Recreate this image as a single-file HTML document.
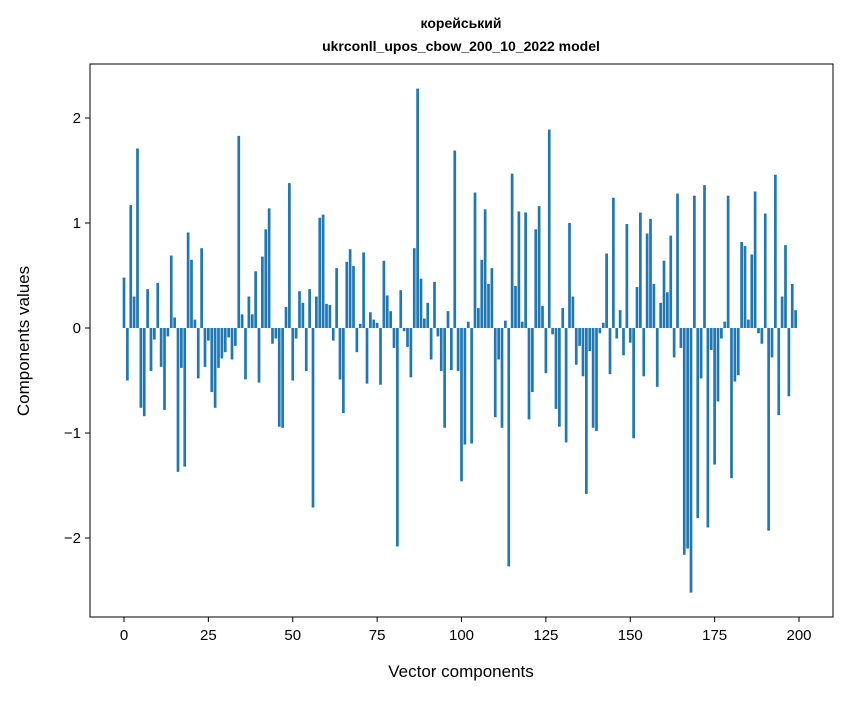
<!DOCTYPE html>
<html><head><meta charset="utf-8"><style>
body{margin:0;background:#fff;}
svg text{font-family:"Liberation Sans","DejaVu Sans",sans-serif;fill:#000;}
</style></head><body>
<svg id="chart" width="847" height="696" xmlns="http://www.w3.org/2000/svg">
<rect width="847" height="696" fill="#fff"/>
<text x="461" y="28" text-anchor="middle" font-size="14" font-weight="bold">корейський</text>
<text x="461" y="51" text-anchor="middle" font-size="14" font-weight="bold">ukrconll_upos_cbow_200_10_2022 model</text>
<g id="bars"></g>
<g id="xticks"></g>
<g id="yticks"></g>
<rect x="90" y="64" width="743" height="553" fill="none" stroke="#000" stroke-width="1"/>
<text x="461" y="677" text-anchor="middle" font-size="17">Vector components</text>
<text transform="translate(29,341) rotate(-90)" text-anchor="middle" font-size="17">Components values</text>
</svg>
<script>
const values = [0.48,-0.50,1.17,0.30,1.71,-0.76,-0.84,0.37,-0.41,-0.11,0.43,-0.37,-0.78,-0.08,0.69,0.10,-1.37,-0.38,-1.32,0.91,
0.65,0.08,-0.48,0.76,-0.37,-0.12,-0.61,-0.76,-0.38,-0.29,-0.23,-0.09,-0.30,-0.17,1.83,0.13,-0.49,0.30,0.13,0.54,
-0.52,0.68,0.94,1.14,-0.15,-0.10,-0.94,-0.95,0.20,1.38,-0.50,-0.10,0.35,0.24,-0.41,0.37,-1.71,0.30,1.05,1.08,
0.23,0.22,-0.12,0.57,-0.49,-0.81,0.63,0.75,0.59,-0.23,0.04,0.72,-0.53,0.15,0.08,0.05,-0.54,0.64,0.31,0.16,
-0.19,-2.08,0.36,-0.03,-0.18,-0.47,0.76,2.28,0.47,0.09,0.24,-0.30,0.44,-0.08,-0.41,-0.95,0.16,-0.40,1.69,-0.41,
-1.46,-1.11,0.06,-1.10,1.29,0.19,0.65,1.13,0.42,0.57,-0.85,-0.30,-0.95,0.07,-2.27,1.47,0.40,1.11,0.06,1.10,
-0.87,-0.61,0.94,1.16,0.21,-0.43,1.89,-0.06,-0.77,-0.94,0.19,-1.09,1.00,0.30,-0.35,-0.17,-0.46,-1.58,-0.22,-0.95,
-0.98,-0.05,0.05,0.71,-0.44,1.24,-0.10,0.17,-0.26,0.99,-0.14,-1.05,0.39,1.10,-0.46,0.90,1.04,0.42,-0.56,0.24,
0.64,0.34,0.88,-0.28,1.28,-0.19,-2.16,-2.10,-2.52,1.26,-1.81,-0.48,1.36,-1.90,-0.21,-1.30,-0.70,-0.10,0.06,1.26,
-1.43,-0.51,-0.45,0.82,0.78,0.08,0.70,1.30,-0.05,-0.15,1.09,-1.93,-0.28,1.46,-0.83,0.30,0.79,-0.65,0.42,0.17];
const xTicks = [0,25,50,75,100,125,150,175,200];
const yTicks = [-2,-1,0,1,2];
const yTickLabels = ["\u22122","\u22121","0","1","2"];
const NS="http://www.w3.org/2000/svg";
const X0=124, XS=3.375, Y0=328, YS=105;
function sx(v){return X0+v*XS;}
function sy(v){return Y0-v*YS;}
const bars=document.getElementById('bars');
values.forEach((v,i)=>{
  const r=document.createElementNS(NS,'rect');
  const y1=sy(Math.max(v,0)), y2=sy(Math.min(v,0));
  r.setAttribute('x',sx(i-0.4));
  r.setAttribute('y',y1);
  r.setAttribute('width',0.8*XS);
  r.setAttribute('height',Math.max(y2-y1,0.3));
  r.setAttribute('fill','#1f77b4');
  
  
  bars.appendChild(r);
});
const xg=document.getElementById('xticks');
xTicks.forEach(t=>{
  const l=document.createElementNS(NS,'line');
  l.setAttribute('x1',sx(t));l.setAttribute('x2',sx(t));
  l.setAttribute('y1',617);l.setAttribute('y2',622);
  l.setAttribute('stroke','#000');
  
  
  xg.appendChild(l);
  const tx=document.createElementNS(NS,'text');
  tx.setAttribute('x',sx(t));tx.setAttribute('y',640);
  tx.setAttribute('text-anchor','middle');tx.setAttribute('font-size','15');
  tx.textContent=t;
  
  
  xg.appendChild(tx);
});
const yg=document.getElementById('yticks');
yTicks.forEach((t,i)=>{
  const l=document.createElementNS(NS,'line');
  l.setAttribute('x1',85);l.setAttribute('x2',90);
  l.setAttribute('y1',sy(t));l.setAttribute('y2',sy(t));
  l.setAttribute('stroke','#000');
  
  
  yg.appendChild(l);
  const tx=document.createElementNS(NS,'text');
  tx.setAttribute('x',81);tx.setAttribute('y',sy(t)+5);
  tx.setAttribute('text-anchor','end');tx.setAttribute('font-size','15');
  tx.textContent=yTickLabels[i];
  
  
  yg.appendChild(tx);
});
</script>
</body></html>
